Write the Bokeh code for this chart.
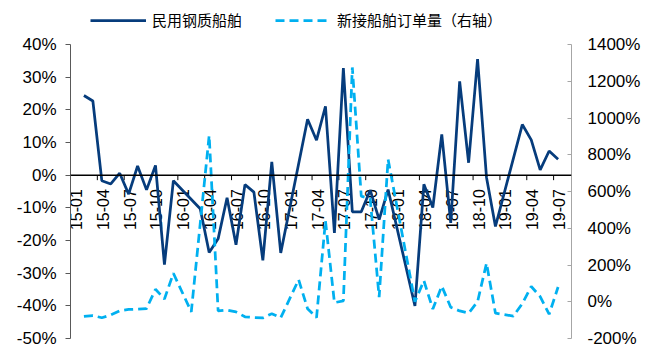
import math
from bokeh.plotting import figure
from bokeh.models import (ColumnDataSource, Range1d, LinearAxis, FixedTicker,
                          PrintfTickFormatter, Span, Legend, LegendItem)
from bokeh.embed import file_html
from bokeh.resources import INLINE
from bokeh.core.properties import value

# ---- data -----------------------------------------------------------------
months = ["15-01", "15-02", "15-03", "15-04", "15-05", "15-06", "15-07", "15-08", "15-09", "15-10", "15-11", "15-12",
          "16-01", "16-02", "16-03", "16-04", "16-05", "16-06", "16-07", "16-08", "16-09", "16-10", "16-11", "16-12",
          "17-01", "17-02", "17-03", "17-04", "17-05", "17-06", "17-07", "17-08", "17-09", "17-10", "17-11", "17-12",
          "18-01", "18-02", "18-03", "18-04", "18-05", "18-06", "18-07", "18-08", "18-09", "18-10", "18-11", "18-12",
          "19-01", "19-02", "19-03", "19-04", "19-05", "19-06", "19-07", "19-08"]

# 民用钢质船舶 (left axis, %)
steel = [None, 24.4, 22.7, -1.7, -2.7, 0.6, -5.8, 2.8, -4.5, 3.0, -27.4, -1.7,
         None, None, -10.3, -23.7, -19.5, -6.9, -21.3, -2.9, -5.2, -26.1, 4.1, -23.8,
         None, None, 17.1, 10.7, 21.1, -17.7, 32.8, -11.2, -11.2, -4.6, -13.6, -4.4,
         None, None, -40.0, -2.8, -9.9, 12.5, -14.6, 28.7, 3.8, 35.5, -0.7, -15.7,
         None, None, 15.5, 10.8, 1.6, 7.4, 4.9, None]

# 新接船舶订单量 (right axis, %)
orders = [None, -80, -75, -87, -72, -49, -42, -40, -37, 68, 15, 155,
          None, -55, None, 905, -50, -45, -55, -82, -86, -88, -65, -87,
          None, 120, -38, -86, 440, -5, 5, 1275, 575, 560, 25, 775,
          None, None, 0, 115, -40, 85, -30, -50, -62, 0, 210, -62,
          None, -78, -10, 83, 28, -68, 80, None]

tick_labels = ["15-01", "15-04", "15-07", "15-10", "16-01", "16-04", "16-07", "16-10",
               "17-01", "17-04", "17-07", "17-10", "18-01", "18-04", "18-07", "18-10",
               "19-01", "19-04", "19-07"]
left_ticks = [-50, -40, -30, -20, -10, 0, 10, 20, 30, 40]
right_ticks = [-200, 0, 200, 400, 600, 800, 1000, 1200, 1400]

series_names = ["民用钢质船舶", "新接船舶订单量（右轴）"]

DARK = "#063C7C"
LIGHT = "#00B0F0"

# ---- layout constants (pixels) -------------------------------------------
W, H = 647, 347
FRAME_L, FRAME_R, FRAME_T, FRAME_B = 70, 571, 8, 338
AXIS_TOP = 44                      # where the top tick (40% / 1400%) sits
plot_h = FRAME_B - FRAME_T
axis_h = FRAME_B - AXIS_TOP
lo, hi = left_ticks[0], left_ticks[-1]
lo2, hi2 = right_ticks[0], right_ticks[-1]
y_top = lo + (hi - lo) * plot_h / axis_h
y2_top = lo2 + (hi2 - lo2) * plot_h / axis_h

# ---- sources --------------------------------------------------------------
def pts(vals):
    xs, ys = [], []
    for i, v in enumerate(vals):
        if v is not None:
            xs.append(i + 0.5)
            ys.append(v)
    return ColumnDataSource(dict(x=xs, y=ys))

src_steel = pts(steel)
src_orders = pts(orders)

lab_x = [months.index(t) + 0.5 for t in tick_labels]
lab_src = ColumnDataSource(dict(x=lab_x, y=[0] * len(tick_labels), text=tick_labels))
tick_x = [months.index(t) for t in tick_labels]
tick_len = (hi - lo) * 5 / axis_h
tick_src = ColumnDataSource(dict(x=tick_x, y0=[0] * len(tick_x), y1=[-tick_len] * len(tick_x)))

# ---- figure ---------------------------------------------------------------
p = figure(width=W, height=H, output_backend="svg", toolbar_location=None,
           x_range=Range1d(0, len(months)), y_range=Range1d(lo, y_top),
           x_axis_location=None,
           min_border_left=FRAME_L, min_border_right=W - FRAME_R,
           min_border_top=FRAME_T, min_border_bottom=H - FRAME_B)
p.outline_line_color = None
p.xgrid.grid_line_color = None
p.ygrid.grid_line_color = None
p.background_fill_color = "white"
p.extra_y_ranges = {"right": Range1d(lo2, y2_top)}

ax = p.yaxis[0]
ax.ticker = FixedTicker(ticks=left_ticks)
ax.bounds = (lo, hi)
ax.formatter = PrintfTickFormatter(format="%d%%")
ax.axis_line_color = "#595959"
ax.major_tick_line_color = "#595959"
ax.major_tick_out = 5
ax.major_tick_in = 0
ax.minor_tick_line_color = None
ax.major_label_standoff = 9
ax.major_label_text_font = "Liberation Sans"
ax.major_label_text_font_size = "17px"
ax.major_label_text_color = "black"

ax2 = LinearAxis(y_range_name="right", ticker=FixedTicker(ticks=right_ticks),
                 formatter=PrintfTickFormatter(format="%d%%"), bounds=(lo2, hi2))
ax2.axis_line_color = "#A6A6A6"
ax2.major_tick_line_color = "#A6A6A6"
ax2.major_tick_in = 4
ax2.major_tick_out = 0
ax2.minor_tick_line_color = None
ax2.major_label_standoff = 16
ax2.major_label_text_font = "Liberation Sans"
ax2.major_label_text_font_size = "17px"
ax2.major_label_text_color = "black"
p.add_layout(ax2, "right")

# category labels sitting under the zero line
p.text(x="x", y="y", text="text", source=lab_src, angle=math.pi / 2,
       text_align="right", text_baseline="middle", y_offset=14, x_offset=1,
       text_font=value("Liberation Sans"), text_font_size="16px", text_color="black")

p.add_layout(Span(location=0, dimension="width", line_color="black", line_width=1.5))
p.segment(x0="x", y0="y0", x1="x", y1="y1", source=tick_src, line_color="black", line_width=1)

r1 = p.line("x", "y", source=src_steel, line_color=DARK, line_width=2.75)
r2 = p.line("x", "y", source=src_orders, y_range_name="right", line_color=LIGHT,
            line_width=2.75, line_dash="9 5")

legend = Legend(items=[LegendItem(label=series_names[0], renderers=[r1]),
                       LegendItem(label=series_names[1], renderers=[r2])],
                orientation="horizontal", location=(20, plot_h - 22),
                label_text_font="Noto Sans CJK SC", label_text_font_size="15px",
                label_text_color="black", glyph_width=56, label_standoff=6,
                spacing=33, padding=0, margin=0, border_line_alpha=0,
                background_fill_alpha=0)
p.add_layout(legend)

open("out.html", "w").write(file_html(p, INLINE))
